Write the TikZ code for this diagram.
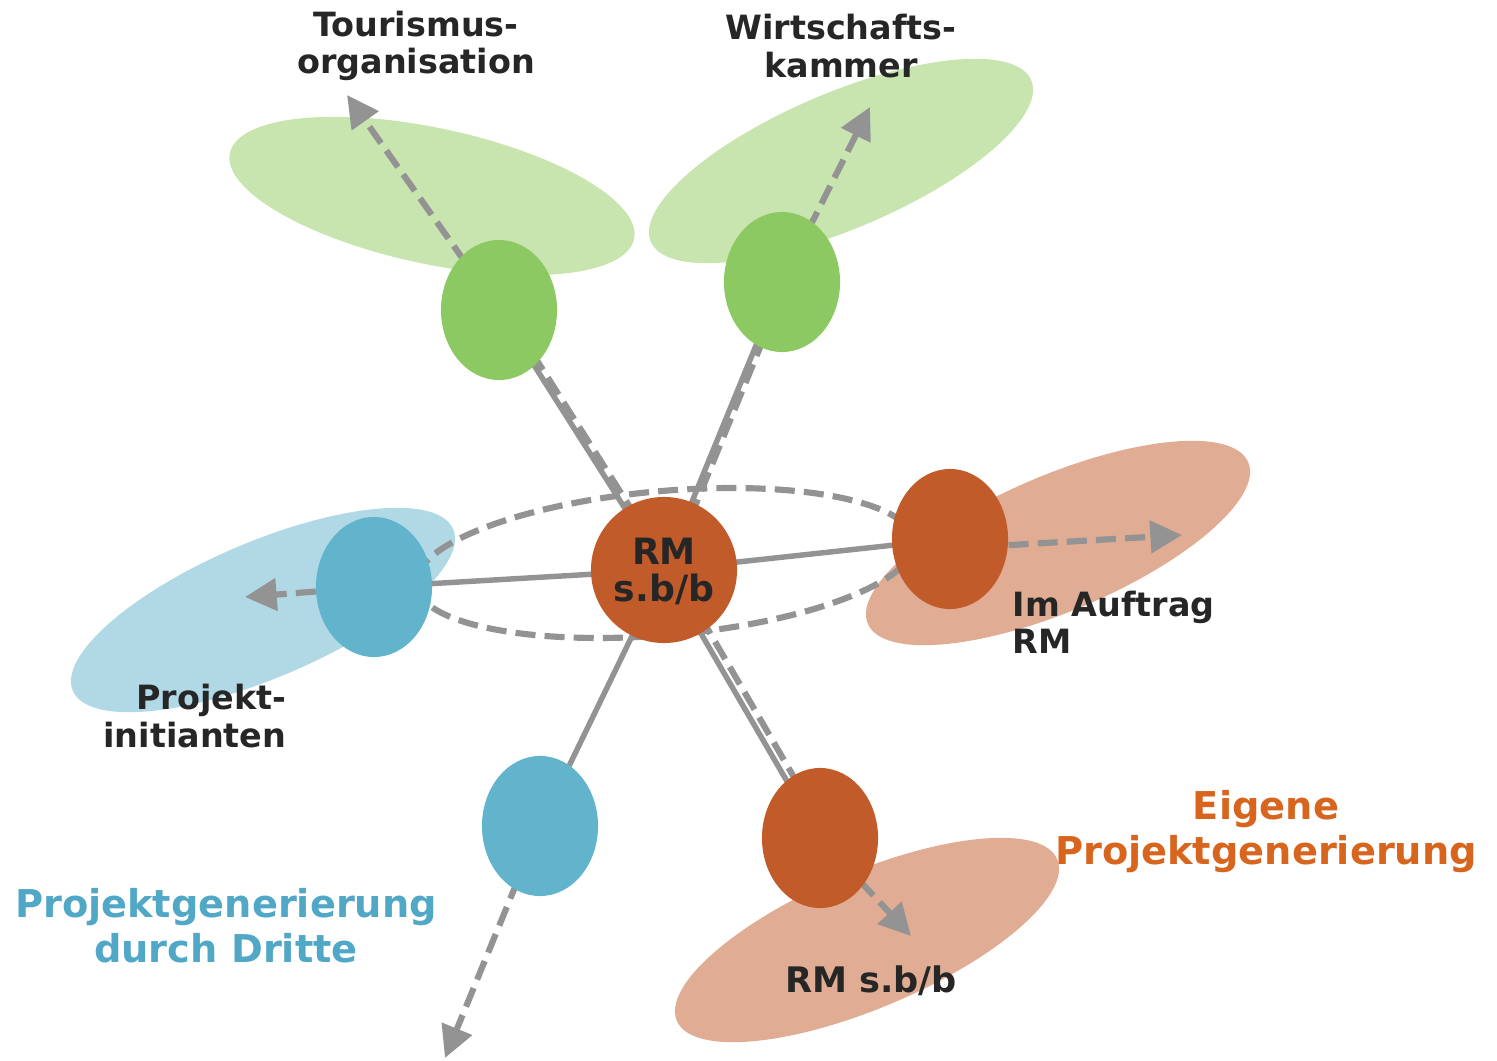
\documentclass[tikz,border=0pt]{standalone}
\usepackage{fontspec}
\setmainfont{DejaVu Sans}
\usetikzlibrary{shapes.geometric,arrows.meta}
\pgfdeclarelayer{bg}
\pgfdeclarelayer{lines}
\pgfsetlayers{bg,lines,main}
\definecolor{gsmall}{HTML}{8DC963}
\definecolor{gbig}{HTML}{C8E5B0}
\definecolor{bsmall}{HTML}{62B4CD}
\definecolor{bbig}{HTML}{B0D9E5}
\definecolor{osmall}{HTML}{C25B2A}
\definecolor{obig}{HTML}{E0AC94}
\definecolor{lgray}{HTML}{939393}
\definecolor{txt}{HTML}{262626}
\definecolor{otxt}{HTML}{D8651E}
\definecolor{btxt}{HTML}{50A8C6}
\begin{document}
\begin{tikzpicture}[x=0.01cm,y=-0.01cm,
  small/.style={ellipse,minimum width=1.16cm,minimum height=1.4cm,inner sep=0pt},
  big/.style={ellipse,minimum width=4.13cm,minimum height=1.36cm,inner sep=0pt},
  solidline/.style={draw=lgray,line width=1.55pt},
  dashline/.style={draw=lgray,line width=1.75pt,dash pattern=on 5.7pt off 2.6pt},
  dasharrow/.style={dashline,-{Triangle[length=9pt,width=9pt]}},
  lbl/.style={text=txt,font=\fontsize{9.5pt}{10.6pt}\selectfont\bfseries,inner sep=0pt},
  biglbl/.style={font=\fontsize{10.9pt}{12.8pt}\selectfont\bfseries,inner sep=0pt,align=center}
]
\useasboundingbox (0,0) rectangle (1497,1061);

% big background ellipses
\begin{pgfonlayer}{bg}
\node[big,fill=gbig,rotate=-12] (bgA) at (432,196) {};
\node[big,fill=gbig,rotate=23] (bgB) at (841,161) {};
\node[big,fill=bbig,rotate=23] (bgC) at (263,610) {};
\node[big,fill=obig,rotate=23] (bgD) at (1058,543) {};
\node[big,fill=obig,rotate=23] (bgE) at (867,940) {};
\end{pgfonlayer}

% main nodes
\node[small,fill=gsmall] (tl) at (499,310) {};
\node[small,fill=gsmall] (tr) at (782,282) {};
\node[small,fill=bsmall] (bl) at (374,587) {};
\node[small,fill=bsmall] (lb) at (540,826) {};
\node[small,fill=osmall] (ro) at (950,539) {};
\node[small,fill=osmall] (lo) at (820,838) {};
\node[circle,fill=osmall,minimum size=1.46cm,inner sep=0pt,lbl,font=\fontsize{10.3pt}{10.6pt}\selectfont\bfseries,align=center,text depth=0pt] (c) at (664,570) {RM\\s.b/b};

% arrow tip coordinates
\coordinate (tlTip) at (347,95);
\coordinate (trTip) at (870,107);
\coordinate (roTip) at (1182,535);
\coordinate (blTip) at (245,597);
\coordinate (lbTip) at (445,1058);
\coordinate (loTip) at (911,936);

\begin{pgfonlayer}{lines}
\draw[dashline,rotate around={5:(665,563)}] (665,563) ellipse [x radius=250, y radius=72];
\draw[solidline] (c.center) -- (tl.center);
\draw[dashline] ([shift={(4,-3)}]c.center) -- ([shift={(4,-3)}]tl.center);
\draw[solidline] (c.center) -- (tr.center);
\draw[dashline] ([shift={(4,2)}]c.center) -- ([shift={(4,2)}]tr.center);
\draw[solidline] (c.center) -- (lo.center);
\draw[dashline] ([shift={(7,-4)}]c.center) -- ([shift={(7,-4)}]lo.center);
\draw[solidline] (c.center) -- (bl.center);
\draw[solidline] (c.center) -- (ro.center);
\draw[solidline] (c.center) -- (lb.center);
\draw[dasharrow] (tl.center) -- (tlTip);
\draw[dasharrow] (tr.center) -- (trTip);
\draw[dasharrow] (ro.-6) -- (roTip);
\draw[dasharrow] (bl.center) -- (blTip);
\draw[dasharrow] (lb.center) -- (lbTip);
\draw[dasharrow] (lo.center) -- (loTip);
\end{pgfonlayer}

% labels
\node[lbl,align=center] (t1) at (416,46) {Tourismus-\\organisation};
\node[lbl,align=center] (t2) at (841,46) {Wirtschafts-\\kammer};
\node[lbl,align=left,anchor=west] (t3) at (1012,622) {Im Auftrag\\RM};
\node[lbl,align=right,anchor=east] (t4) at (287,716) {Projekt-\\initianten};
\node[lbl,font=\fontsize{10pt}{11pt}\selectfont\bfseries] (t5) at (871,981) {RM s.b/b};
\node[biglbl,text=otxt] (t6) at (1266,832) {Eigene\\Projektgenerierung};
\node[biglbl,text=btxt] (t7) at (226,926) {Projektgenerierung\\durch Dritte};
\end{tikzpicture}
\end{document}
